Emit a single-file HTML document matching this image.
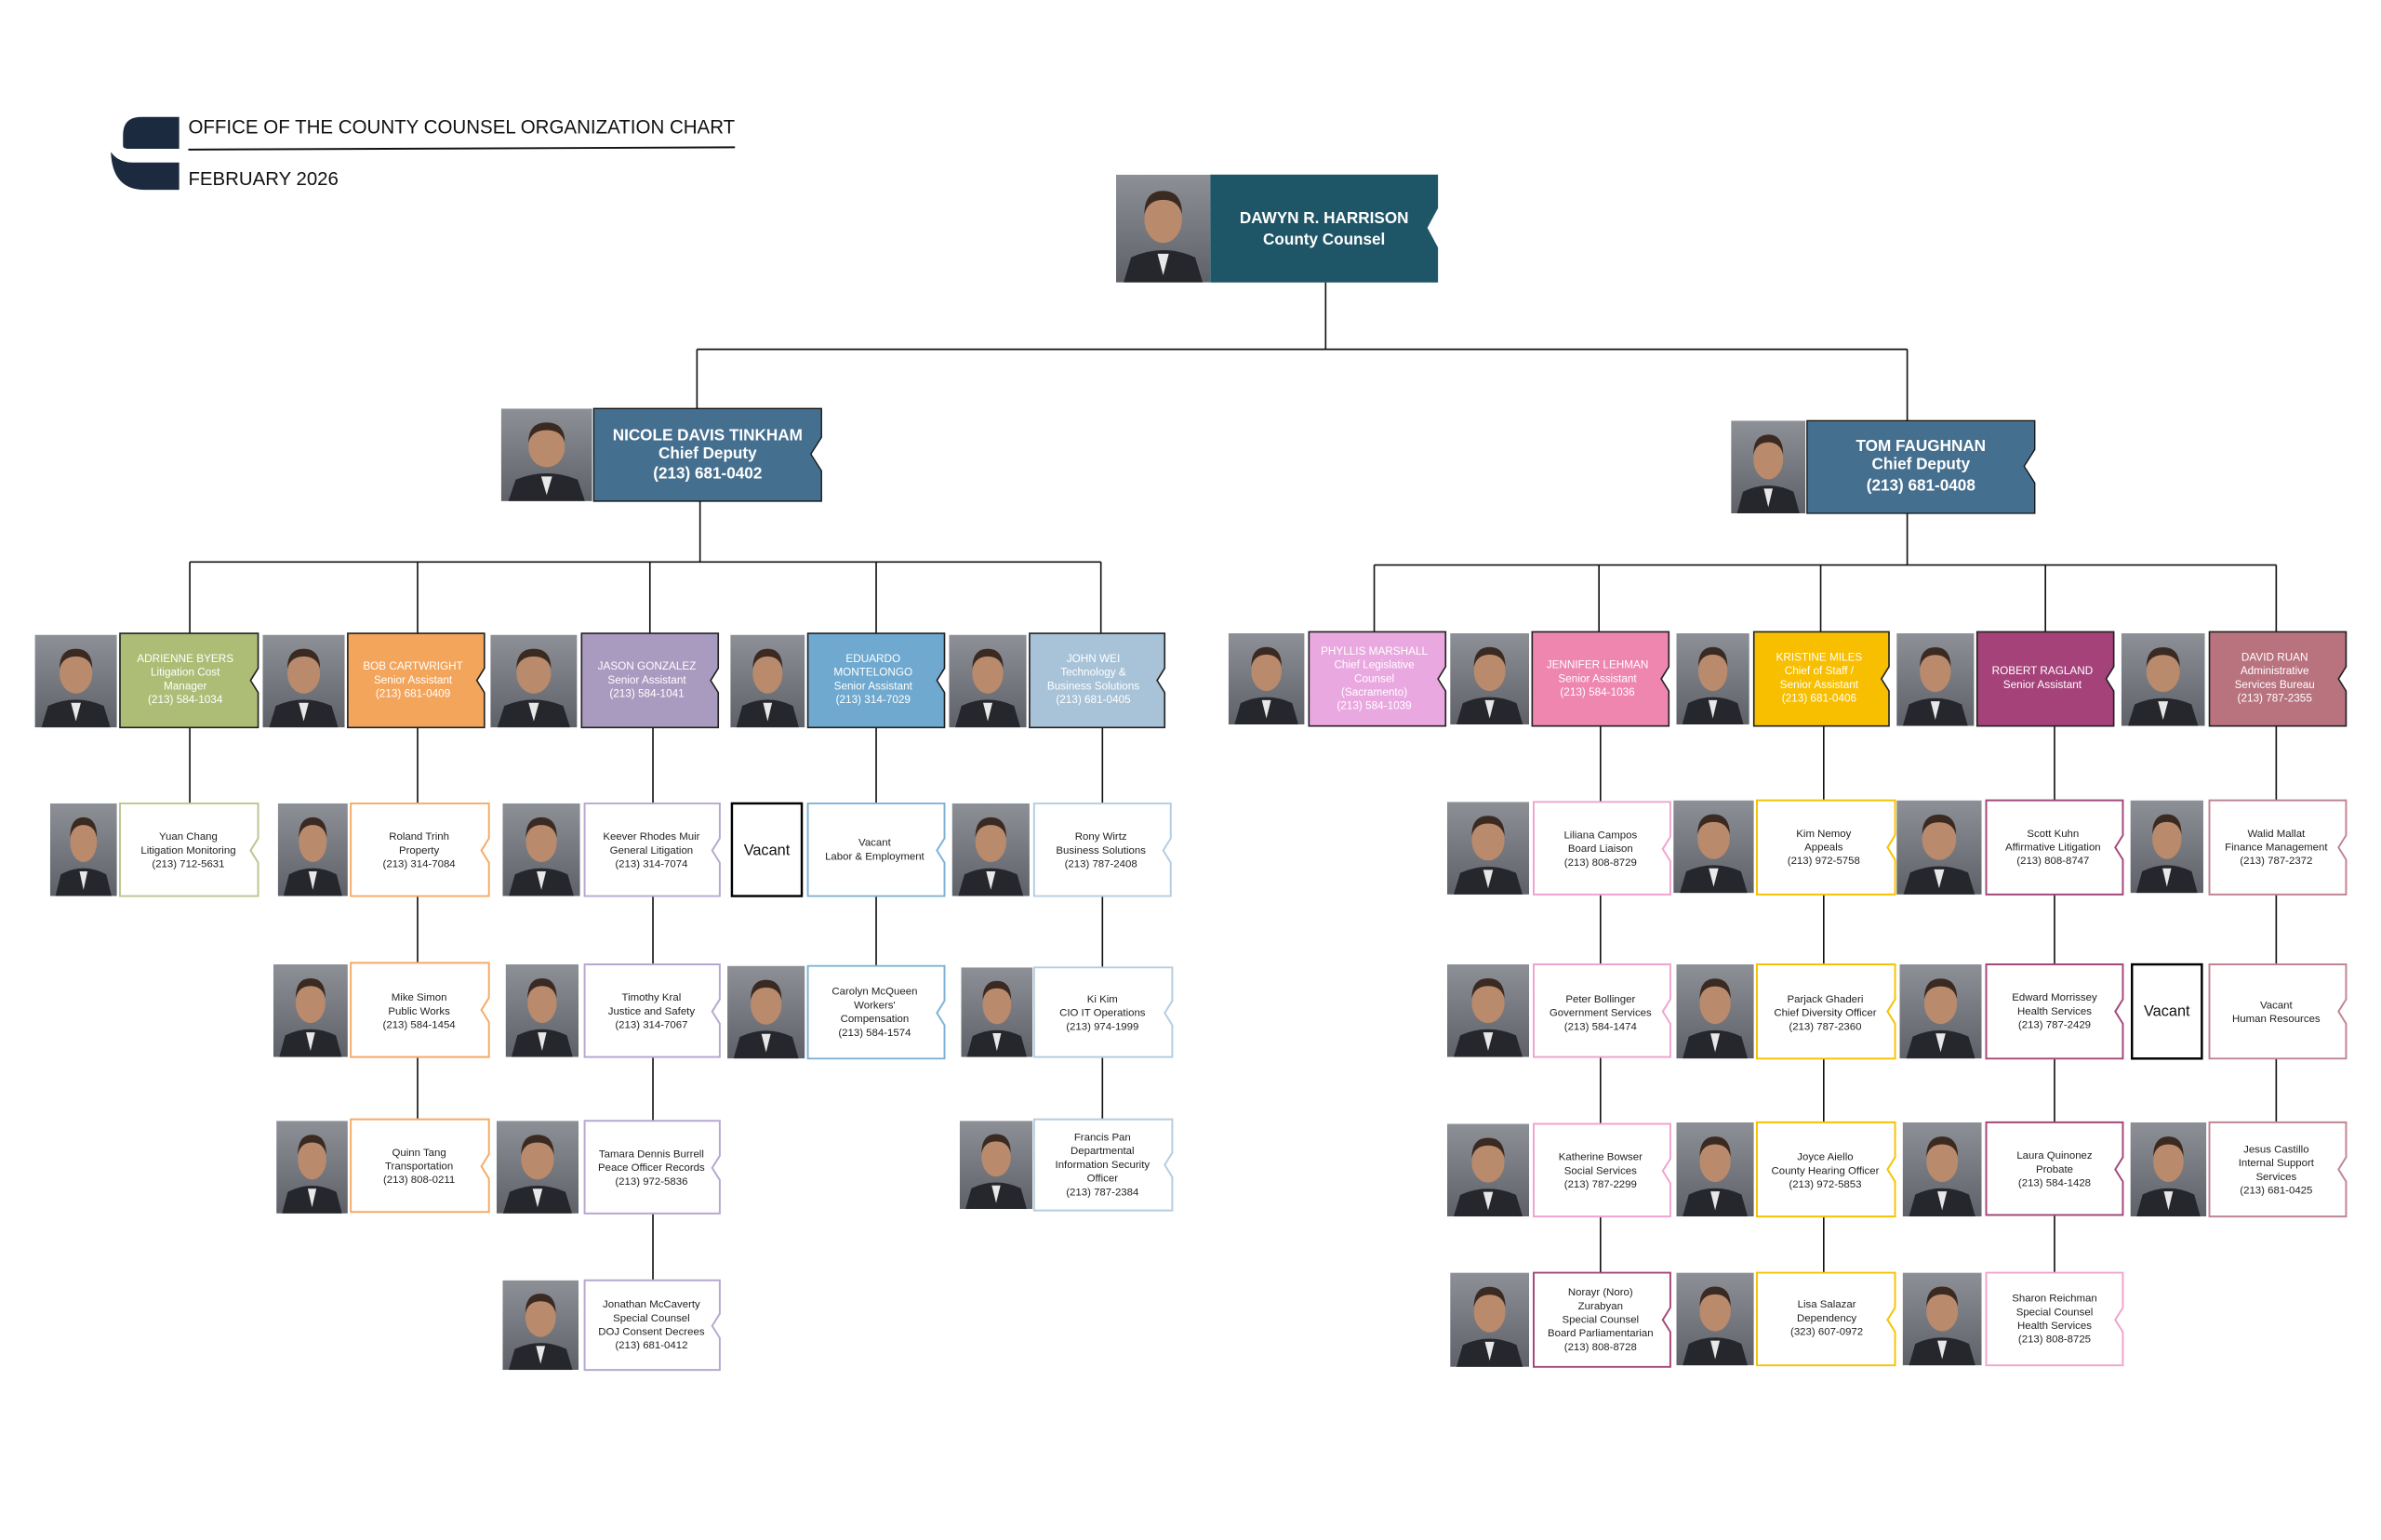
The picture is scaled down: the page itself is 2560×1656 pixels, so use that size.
<!DOCTYPE html>
<html><head><meta charset="utf-8"><style>
html,body{margin:0;padding:0;background:#fff;}
svg{display:block;}
text{font-family:"Liberation Sans",Arial,sans-serif;text-anchor:middle;}
.t1{font-size:10.5px;font-weight:bold;fill:#fff;}
.t2{font-size:7.2px;fill:#fff;}
.t3{font-size:7px;fill:#222;}
.ln{stroke:#111;stroke-width:1;fill:none;}
</style></head><body>
<svg width="2560" height="1656" viewBox="0 0 1568 1014" preserveAspectRatio="none" xmlns="http://www.w3.org/2000/svg">
<defs>
<linearGradient id="pg" x1="0" y1="0" x2="0" y2="1"><stop offset="0" stop-color="#8d9096"/><stop offset="1" stop-color="#5e6168"/></linearGradient>
<symbol id="ph" viewBox="0 0 50 60" preserveAspectRatio="none">
<rect width="50" height="60" fill="url(#pg)"/>
<path d="M4 60 L8 46 Q25 38 42 46 L46 60 Z" fill="#26272d"/>
<ellipse cx="25" cy="25" rx="10" ry="13" fill="#b98a6c"/>
<path d="M15 22 Q15 9 25 9 Q35 9 35 22 Q33 14 25 14 Q17 14 15 22Z" fill="#3a2a22"/>
<path d="M22 44 L25 56 L28 44 Z" fill="#e8e8e8"/>
</symbol>
</defs>

<!-- title -->
<path d="M118 77 H93 Q81 77 81 89 V96 Q81 98 85 98 H118 Z" fill="#1c2a3f"/>
<path d="M73 100 Q74 125 95 125 H118 V107 H87 Q78 107 73 100 Z" fill="#1c2a3f"/>
<text x="124" y="88" textLength="360" lengthAdjust="spacingAndGlyphs" style="font-size:13px;text-anchor:start;fill:#111">OFFICE OF THE COUNTY COUNSEL ORGANIZATION CHART</text>
<line x1="124" y1="98.5" x2="484" y2="97" stroke="#111" stroke-width="1.2"/>
<text x="124" y="122" style="font-size:12.5px;text-anchor:start;fill:#111">FEBRUARY 2026</text>

<!-- connectors -->
<path class="ln" d="M873 186 V230 M459 230 H1256 M459 230 V269 M1256 230 V277 M461 330 V370 M125 370 H725 M125 370 V417 M275 370 V417 M428 370 V417 M577 370 V417 M725 370 V417 M1256 338 V372 M905 372 H1499 M905 372 V416 M1053 372 V416 M1199 372 V416 M1347 372 V416 M1499 372 V416"/>
<path class="ln" d="M125 479 V529 M275 479 V737 M430 479 V843 M577 479 V636 M726 479 V737 M1054 478 V838 M1201 478 V838 M1353 478 V838 M1499 478 V739"/>

<!-- top -->
<use href="#ph" x="735" y="115" width="62" height="71"/>
<polygon points="797,115 947,115 947,137 940,150 947,163 947,186 797,186" fill="#1e5567"/>
<text class="t1" x="872" y="147">DAWYN R. HARRISON</text>
<text class="t1" x="872" y="161">County Counsel</text>

<use href="#ph" x="330" y="269" width="60" height="61"/>
<polygon points="391,269 541,269 541,288 534,299 541,310 541,330 391,330" fill="#456f8f" stroke="#111" stroke-width="0.8"/>
<text class="t1" x="466" y="290">NICOLE DAVIS TINKHAM</text>
<text class="t1" x="466" y="302">Chief Deputy</text>
<text class="t1" x="466" y="315">(213) 681-0402</text>

<use href="#ph" x="1140" y="277" width="49" height="61"/>
<polygon points="1190,277 1340,277 1340,296 1333,307 1340,318 1340,338 1190,338" fill="#456f8f" stroke="#111" stroke-width="0.8"/>
<text class="t1" x="1265" y="297">TOM FAUGHNAN</text>
<text class="t1" x="1265" y="309">Chief Deputy</text>
<text class="t1" x="1265" y="323">(213) 681-0408</text>

<!-- level 2 left -->
<use href="#ph" x="23" y="418" width="54" height="61"/>
<polygon points="79,417 170,417 170,440 165,448 170,456 170,479 79,479" fill="#adbd76" stroke="#222" stroke-width="1"/>
<text class="t2" x="122" y="436">ADRIENNE BYERS</text><text class="t2" x="122" y="445">Litigation Cost</text><text class="t2" x="122" y="454">Manager</text><text class="t2" x="122" y="463">(213) 584-1034</text>

<use href="#ph" x="173" y="418" width="54" height="61"/>
<polygon points="229,417 319,417 319,440 314,448 319,456 319,479 229,479" fill="#f4a55c" stroke="#222" stroke-width="1"/>
<text class="t2" x="272" y="441">BOB CARTWRIGHT</text><text class="t2" x="272" y="450">Senior Assistant</text><text class="t2" x="272" y="459">(213) 681-0409</text>

<use href="#ph" x="323" y="418" width="57" height="61"/>
<polygon points="383,417 473,417 473,440 468,448 473,456 473,479 383,479" fill="#a99ac0" stroke="#222" stroke-width="1"/>
<text class="t2" x="426" y="441">JASON GONZALEZ</text><text class="t2" x="426" y="450">Senior Assistant</text><text class="t2" x="426" y="459">(213) 584-1041</text>

<use href="#ph" x="481" y="418" width="49" height="61"/>
<polygon points="532,417 622,417 622,440 617,448 622,456 622,479 532,479" fill="#6fa9cf" stroke="#222" stroke-width="1"/>
<text class="t2" x="575" y="436">EDUARDO</text><text class="t2" x="575" y="445">MONTELONGO</text><text class="t2" x="575" y="454">Senior Assistant</text><text class="t2" x="575" y="463">(213) 314-7029</text>

<use href="#ph" x="625" y="418" width="51" height="61"/>
<polygon points="678,417 767,417 767,440 762,448 767,456 767,479 678,479" fill="#a8c3d8" stroke="#222" stroke-width="1"/>
<text class="t2" x="720" y="436">JOHN WEI</text><text class="t2" x="720" y="445">Technology &amp;</text><text class="t2" x="720" y="454">Business Solutions</text><text class="t2" x="720" y="463">(213) 681-0405</text>

<!-- level 2 right -->
<use href="#ph" x="809" y="417" width="50" height="60"/>
<polygon points="862,416 952,416 952,439 947,447 952,455 952,478 862,478" fill="#eaa8e0" stroke="#222" stroke-width="1"/>
<text class="t2" x="905" y="431">PHYLLIS MARSHALL</text><text class="t2" x="905" y="440">Chief Legislative</text><text class="t2" x="905" y="449">Counsel</text><text class="t2" x="905" y="458">(Sacramento)</text><text class="t2" x="905" y="467">(213) 584-1039</text>

<use href="#ph" x="955" y="417" width="52" height="60"/>
<polygon points="1009,416 1099,416 1099,439 1094,447 1099,455 1099,478 1009,478" fill="#ee86b0" stroke="#222" stroke-width="1"/>
<text class="t2" x="1052" y="440">JENNIFER LEHMAN</text><text class="t2" x="1052" y="449">Senior Assistant</text><text class="t2" x="1052" y="458">(213) 584-1036</text>

<use href="#ph" x="1104" y="417" width="48" height="60"/>
<polygon points="1155,416 1244,416 1244,439 1239,447 1244,455 1244,478 1155,478" fill="#f8bf00" stroke="#222" stroke-width="1"/>
<text class="t2" x="1198" y="435">KRISTINE MILES</text><text class="t2" x="1198" y="444">Chief of Staff /</text><text class="t2" x="1198" y="453">Senior Assistant</text><text class="t2" x="1198" y="462">(213) 681-0406</text>

<use href="#ph" x="1249" y="417" width="51" height="61"/>
<polygon points="1302,416 1392,416 1392,439 1387,447 1392,455 1392,478 1302,478" fill="#a5427a" stroke="#222" stroke-width="1"/>
<text class="t2" x="1345" y="444">ROBERT RAGLAND</text><text class="t2" x="1345" y="453">Senior Assistant</text>

<use href="#ph" x="1397" y="417" width="55" height="61"/>
<polygon points="1455,416 1545,416 1545,439 1540,447 1545,455 1545,478 1455,478" fill="#b8737f" stroke="#222" stroke-width="1"/>
<text class="t2" x="1498" y="435">DAVID RUAN</text><text class="t2" x="1498" y="444">Administrative</text><text class="t2" x="1498" y="453">Services Bureau</text><text class="t2" x="1498" y="462">(213) 787-2355</text>

<!-- level 3 left -->
<g fill="#fff" stroke-width="1.2">
<polygon points="79,529 170,529 170,552 165,560 170,568 170,590 79,590" stroke="#b9c78f"/>
<polygon points="231,529 322,529 322,552 317,560 322,568 322,590 231,590" stroke="#f5aa66"/>
<polygon points="231,634 322,634 322,657 317,665 322,673 322,696 231,696" stroke="#f5aa66"/>
<polygon points="231,737 322,737 322,760 317,768 322,776 322,798 231,798" stroke="#f5aa66"/>
<polygon points="385,529 474,529 474,552 469,560 474,568 474,590 385,590" stroke="#b6a8cf"/>
<polygon points="385,635 474,635 474,658 469,666 474,674 474,696 385,696" stroke="#b6a8cf"/>
<polygon points="385,738 474,738 474,761 469,769 474,777 474,799 385,799" stroke="#b6a8cf"/>
<polygon points="385,843 474,843 474,865 469,873 474,881 474,902 385,902" stroke="#b6a8cf"/>
<polygon points="532,529 622,529 622,552 617,560 622,568 622,590 532,590" stroke="#7fb1d6"/>
<polygon points="532,636 622,636 622,659 617,667 622,675 622,697 532,697" stroke="#7fb1d6"/>
<polygon points="681,529 771,529 771,552 766,560 771,568 771,590 681,590" stroke="#b5cde0"/>
<polygon points="681,637 772,637 772,659 767,667 772,675 772,696 681,696" stroke="#b5cde0"/>
<polygon points="681,737 772,737 772,759 767,767 772,775 772,797 681,797" stroke="#b5cde0"/>
<rect x="482" y="529" width="46" height="61" stroke="#000" stroke-width="1.5"/>
<rect x="1404" y="635" width="46" height="62" stroke="#000" stroke-width="1.5"/>
</g>
<use href="#ph" x="33" y="529" width="44" height="61"/>
<use href="#ph" x="183" y="529" width="46" height="61"/>
<use href="#ph" x="180" y="635" width="49" height="61"/>
<use href="#ph" x="182" y="738" width="47" height="61"/>
<use href="#ph" x="331" y="529" width="51" height="61"/>
<use href="#ph" x="333" y="635" width="48" height="61"/>
<use href="#ph" x="327" y="738" width="54" height="61"/>
<use href="#ph" x="331" y="843" width="50" height="59"/>
<use href="#ph" x="479" y="636" width="51" height="61"/>
<use href="#ph" x="627" y="529" width="51" height="61"/>
<use href="#ph" x="633" y="637" width="47" height="59"/>
<use href="#ph" x="632" y="738" width="48" height="58"/>

<text class="t3" x="124" y="553">Yuan Chang</text><text class="t3" x="124" y="562">Litigation Monitoring</text><text class="t3" x="124" y="571">(213) 712-5631</text>
<text class="t3" x="276" y="553">Roland Trinh</text><text class="t3" x="276" y="562">Property</text><text class="t3" x="276" y="571">(213) 314-7084</text>
<text class="t3" x="276" y="659">Mike Simon</text><text class="t3" x="276" y="668">Public Works</text><text class="t3" x="276" y="677">(213) 584-1454</text>
<text class="t3" x="276" y="761">Quinn Tang</text><text class="t3" x="276" y="770">Transportation</text><text class="t3" x="276" y="779">(213) 808-0211</text>
<text class="t3" x="429" y="553">Keever Rhodes Muir</text><text class="t3" x="429" y="562">General Litigation</text><text class="t3" x="429" y="571">(213) 314-7074</text>
<text class="t3" x="429" y="659">Timothy Kral</text><text class="t3" x="429" y="668">Justice and Safety</text><text class="t3" x="429" y="677">(213) 314-7067</text>
<text class="t3" x="429" y="762">Tamara Dennis Burrell</text><text class="t3" x="429" y="771">Peace Officer Records</text><text class="t3" x="429" y="780">(213) 972-5836</text>
<text class="t3" x="429" y="861">Jonathan McCaverty</text><text class="t3" x="429" y="870">Special Counsel</text><text class="t3" x="429" y="879">DOJ Consent Decrees</text><text class="t3" x="429" y="888">(213) 681-0412</text>
<text x="505" y="563" style="font-size:10px;fill:#111">Vacant</text>
<text class="t3" x="576" y="557">Vacant</text><text class="t3" x="576" y="566">Labor &amp; Employment</text>
<text class="t3" x="576" y="655">Carolyn McQueen</text><text class="t3" x="576" y="664">Workers'</text><text class="t3" x="576" y="673">Compensation</text><text class="t3" x="576" y="682">(213) 584-1574</text>
<text class="t3" x="725" y="553">Rony Wirtz</text><text class="t3" x="725" y="562">Business Solutions</text><text class="t3" x="725" y="571">(213) 787-2408</text>
<text class="t3" x="726" y="660">Ki Kim</text><text class="t3" x="726" y="669">CIO IT Operations</text><text class="t3" x="726" y="678">(213) 974-1999</text>
<text class="t3" x="726" y="751">Francis Pan</text><text class="t3" x="726" y="760">Departmental</text><text class="t3" x="726" y="769">Information Security</text><text class="t3" x="726" y="778">Officer</text><text class="t3" x="726" y="787">(213) 787-2384</text>

<!-- level 3 right -->
<g fill="#fff" stroke-width="1.2">
<polygon points="1010,528 1100,528 1100,551 1095,559 1100,567 1100,589 1010,589" stroke="#f0a3cf"/>
<polygon points="1010,635 1100,635 1100,658 1095,666 1100,674 1100,696 1010,696" stroke="#f0a3cf"/>
<polygon points="1010,740 1100,740 1100,763 1095,771 1100,779 1100,801 1010,801" stroke="#f0a3cf"/>
<polygon points="1010,838 1100,838 1100,861 1095,869 1100,877 1100,900 1010,900" stroke="#a4477a"/>
<polygon points="1157,527 1248,527 1248,550 1243,558 1248,566 1248,589 1157,589" stroke="#f6c200"/>
<polygon points="1157,635 1248,635 1248,658 1243,666 1248,674 1248,697 1157,697" stroke="#f6c200"/>
<polygon points="1157,739 1248,739 1248,762 1243,770 1248,778 1248,801 1157,801" stroke="#f6c200"/>
<polygon points="1157,838 1248,838 1248,861 1243,869 1248,877 1248,899 1157,899" stroke="#f6c200"/>
<polygon points="1308,527 1398,527 1398,550 1393,558 1398,566 1398,589 1308,589" stroke="#a4477a"/>
<polygon points="1308,635 1398,635 1398,658 1393,666 1398,674 1398,697 1308,697" stroke="#a4477a"/>
<polygon points="1308,739 1398,739 1398,762 1393,770 1398,778 1398,800 1308,800" stroke="#a4477a"/>
<polygon points="1308,838 1398,838 1398,861 1393,869 1398,877 1398,899 1308,899" stroke="#f0a3cf"/>
<polygon points="1455,527 1545,527 1545,550 1540,558 1545,566 1545,589 1455,589" stroke="#c08593"/>
<polygon points="1455,635 1545,635 1545,658 1540,666 1545,674 1545,697 1455,697" stroke="#c08593"/>
<polygon points="1455,739 1545,739 1545,762 1540,770 1545,778 1545,801 1455,801" stroke="#c08593"/>
</g>
<use href="#ph" x="953" y="528" width="54" height="61"/>
<use href="#ph" x="953" y="635" width="54" height="61"/>
<use href="#ph" x="953" y="740" width="54" height="61"/>
<use href="#ph" x="955" y="838" width="52" height="62"/>
<use href="#ph" x="1102" y="527" width="53" height="61"/>
<use href="#ph" x="1104" y="635" width="51" height="62"/>
<use href="#ph" x="1104" y="739" width="51" height="62"/>
<use href="#ph" x="1104" y="838" width="51" height="61"/>
<use href="#ph" x="1249" y="527" width="56" height="62"/>
<use href="#ph" x="1251" y="635" width="54" height="62"/>
<use href="#ph" x="1253" y="739" width="52" height="62"/>
<use href="#ph" x="1253" y="838" width="52" height="61"/>
<use href="#ph" x="1403" y="527" width="48" height="61"/>
<use href="#ph" x="1403" y="739" width="50" height="62"/>

<text class="t3" x="1054" y="552">Liliana Campos</text><text class="t3" x="1054" y="561">Board Liaison</text><text class="t3" x="1054" y="570">(213) 808-8729</text>
<text class="t3" x="1054" y="660">Peter Bollinger</text><text class="t3" x="1054" y="669">Government Services</text><text class="t3" x="1054" y="678">(213) 584-1474</text>
<text class="t3" x="1054" y="764">Katherine Bowser</text><text class="t3" x="1054" y="773">Social Services</text><text class="t3" x="1054" y="782">(213) 787-2299</text>
<text class="t3" x="1054" y="853">Norayr (Noro)</text><text class="t3" x="1054" y="862">Zurabyan</text><text class="t3" x="1054" y="871">Special Counsel</text><text class="t3" x="1054" y="880">Board Parliamentarian</text><text class="t3" x="1054" y="889">(213) 808-8728</text>
<text class="t3" x="1201" y="551">Kim Nemoy</text><text class="t3" x="1201" y="560">Appeals</text><text class="t3" x="1201" y="569">(213) 972-5758</text>
<text class="t3" x="1202" y="660">Parjack Ghaderi</text><text class="t3" x="1202" y="669">Chief Diversity Officer</text><text class="t3" x="1202" y="678">(213) 787-2360</text>
<text class="t3" x="1202" y="764">Joyce Aiello</text><text class="t3" x="1202" y="773">County Hearing Officer</text><text class="t3" x="1202" y="782">(213) 972-5853</text>
<text class="t3" x="1203" y="861">Lisa Salazar</text><text class="t3" x="1203" y="870">Dependency</text><text class="t3" x="1203" y="879">(323) 607-0972</text>
<text class="t3" x="1352" y="551">Scott Kuhn</text><text class="t3" x="1352" y="560">Affirmative Litigation</text><text class="t3" x="1352" y="569">(213) 808-8747</text>
<text class="t3" x="1353" y="659">Edward Morrissey</text><text class="t3" x="1353" y="668">Health Services</text><text class="t3" x="1353" y="677">(213) 787-2429</text>
<text class="t3" x="1353" y="763">Laura Quinonez</text><text class="t3" x="1353" y="772">Probate</text><text class="t3" x="1353" y="781">(213) 584-1428</text>
<text class="t3" x="1353" y="857">Sharon Reichman</text><text class="t3" x="1353" y="866">Special Counsel</text><text class="t3" x="1353" y="875">Health Services</text><text class="t3" x="1353" y="884">(213) 808-8725</text>
<text class="t3" x="1499" y="551">Walid Mallat</text><text class="t3" x="1499" y="560">Finance Management</text><text class="t3" x="1499" y="569">(213) 787-2372</text>
<text x="1427" y="669" style="font-size:10px;fill:#111">Vacant</text>
<text class="t3" x="1499" y="664">Vacant</text><text class="t3" x="1499" y="673">Human Resources</text>
<text class="t3" x="1499" y="759">Jesus Castillo</text><text class="t3" x="1499" y="768">Internal Support</text><text class="t3" x="1499" y="777">Services</text><text class="t3" x="1499" y="786">(213) 681-0425</text>
</svg>
</body></html>
